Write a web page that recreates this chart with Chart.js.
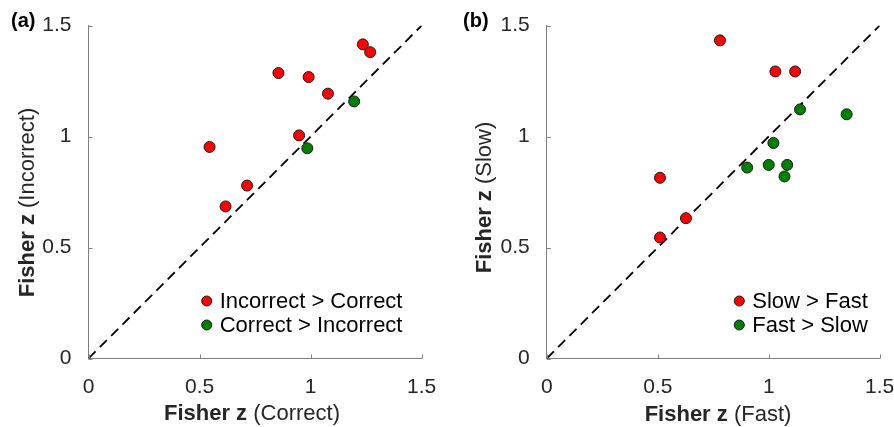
<!DOCTYPE html>
<html lang="en">
<head>
    <meta charset="UTF-8">
    <title>Fisher z scatter</title>
    <style>
        html, body { margin: 0; padding: 0; background: #fff; }
        .wrap { position: relative; width: 894px; height: 427px; overflow: hidden; }
        .panel { position: absolute; top: 0; width: 447px; height: 427px; }
    </style>
</head>
<body>
    <div class="wrap">
        <div class="panel" style="left:0"><canvas id="chartA"></canvas></div>
        <div class="panel" style="left:447px"><canvas id="chartB"></canvas></div>
    </div>

    <script src="https://cdn.jsdelivr.net/npm/chart.js"></script>
    <script>
        // axis ticks, shared by both panels
        const tickVals = [0, 0.5, 1, 1.5];
        const diagVals = [0, 1.5];

        // panel (a)
        const aIncX = [0.545, 0.617, 0.714, 0.855, 0.948, 0.991, 1.078, 1.235, 1.268];
        const aIncY = [0.953, 0.685, 0.779, 1.286, 1.005, 1.268, 1.193, 1.415, 1.380];
        const aCorX = [0.985, 1.196];
        const aCorY = [0.947, 1.158];

        // panel (b)
        const bSlowX = [0.780, 1.030, 1.119, 0.510, 0.627, 0.510];
        const bSlowY = [1.433, 1.293, 1.293, 0.814, 0.632, 0.545];
        const bFastX = [0.903, 1.000, 1.083, 1.071, 1.021, 1.141, 1.351];
        const bFastY = [0.860, 0.872, 0.872, 0.820, 0.971, 1.122, 1.100];

        const FONT = '"Liberation Sans", Arial, sans-serif';
        const RED = '#ff0000';
        const GREEN = '#008000';

        const pts = (xs, ys) => xs.map((x, i) => ({ x: x, y: ys[i] }));

        // draws inward ticks, titles with bold "Fisher z", panel letter and legend
        const decor = {
            id: 'decor',
            afterDraw(chart, args, o) {
                const ctx = chart.ctx;
                const area = chart.chartArea;
                const xs = chart.scales.x, ys = chart.scales.y;

                ctx.save();
                ctx.strokeStyle = '#808080';
                ctx.lineWidth = 1;
                ctx.beginPath();
                tickVals.forEach(v => {
                    const px = Math.round(xs.getPixelForValue(v)) + 0.5;
                    ctx.moveTo(px, area.bottom);
                    ctx.lineTo(px, area.bottom - 4);
                    const py = Math.round(ys.getPixelForValue(v)) + 0.5;
                    ctx.moveTo(area.left, py);
                    ctx.lineTo(area.left + 4, py);
                });
                ctx.stroke();

                // panel letter
                ctx.fillStyle = '#000';
                ctx.font = 'bold 20px ' + FONT;
                ctx.textAlign = 'left';
                ctx.textBaseline = 'alphabetic';
                ctx.fillText(o.letter, o.letterX, 27);

                // axis titles
                drawMixed(ctx, o.xTitle, o.xTitleX, o.xTitleY, 0);
                drawMixed(ctx, o.yTitle, o.yTitleX, o.yTitleY, -Math.PI / 2);

                // legend
                ctx.font = '22px ' + FONT;
                ctx.textBaseline = 'middle';
                chart.data.datasets.filter(d => d.label).forEach((d, i) => {
                    const cy = o.legendY + i * 24;
                    ctx.beginPath();
                    ctx.arc(o.legendX, cy, 5, 0, Math.PI * 2);
                    ctx.fillStyle = d.backgroundColor;
                    ctx.fill();
                    ctx.strokeStyle = '#1a1a1a';
                    ctx.stroke();
                    ctx.fillStyle = '#000';
                    ctx.fillText(d.label, o.legendX + 13, cy + 1);
                });
                ctx.restore();
            }
        };

        function drawMixed(ctx, parts, x, y, rot) {
            const fonts = ['bold 22px ' + FONT, '22px ' + FONT];
            ctx.save();
            ctx.translate(x, y);
            ctx.rotate(rot);
            ctx.fillStyle = '#262626';
            ctx.textAlign = 'left';
            ctx.textBaseline = 'alphabetic';
            const w = parts.map((p, i) => { ctx.font = fonts[i]; return ctx.measureText(p).width; });
            let cx = -(w[0] + w[1]) / 2;
            parts.forEach((p, i) => {
                ctx.font = fonts[i];
                ctx.fillText(p, cx, 0);
                cx += w[i];
            });
            ctx.restore();
        }

        function axis(size, pad) {
            return {
                type: 'linear',
                min: 0,
                max: 1.5,
                grid: { display: false },
                border: { display: true, color: '#808080', width: 1 },
                afterBuildTicks: s => { s.ticks = tickVals.map(v => ({ value: v })); },
                afterFit: s => {
                    if (s.isHorizontal()) s.height = size; else s.width = size;
                    // let the end labels run past the plot edge, as in the original
                    s.paddingLeft = 0; s.paddingRight = 0;
                    s.paddingTop = 0; s.paddingBottom = 0;
                },
                ticks: {
                    color: '#262626',
                    padding: pad,
                    font: { family: FONT, size: 21 },
                    callback: v => String(v)
                }
            };
        }

        function makeChart(id, red, green, labels, yAxisW, padRight, deco) {
            const ctx = document.getElementById(id).getContext('2d');
            return new Chart(ctx, {
                type: 'scatter',
                data: {
                    datasets: [
                        {
                            label: labels[0],
                            data: red,
                            backgroundColor: RED,
                            borderColor: '#1a1a1a',
                            borderWidth: 1,
                            pointRadius: 5.5,
                            order: 1
                        },
                        {
                            label: labels[1],
                            data: green,
                            backgroundColor: GREEN,
                            borderColor: '#1a1a1a',
                            borderWidth: 1,
                            pointRadius: 5.5,
                            order: 2
                        },
                        {
                            type: 'line',
                            data: pts(diagVals, diagVals),
                            borderColor: '#000',
                            borderWidth: 1.8,
                            borderDash: [10, 6],
                            pointRadius: 0,
                            fill: false,
                            order: 3
                        }
                    ]
                },
                options: {
                    responsive: true,
                    maintainAspectRatio: false,
                    animation: false,
                    layout: { padding: { left: 0, right: padRight, top: 25.5, bottom: 0 } },
                    scales: {
                        x: axis(68.5, 8),
                        y: axis(yAxisW, 9)
                    },
                    plugins: {
                        legend: { display: false },
                        tooltip: { enabled: false },
                        decor: deco
                    }
                },
                plugins: [decor]
            });
        }

        makeChart('chartA', pts(aIncX, aIncY), pts(aCorX, aCorY),
            ['Incorrect > Correct', 'Correct > Incorrect'], 88.5, 25.3, {
                letter: '(a)', letterX: 11,
                xTitle: ['Fisher z', ' (Correct)'], xTitleX: 252, xTitleY: 419.5,
                yTitle: ['Fisher z', ' (Incorrect)'], yTitleX: 33.5, yTitleY: 202.5,
                legendX: 206.7, legendY: 301
            });

        makeChart('chartB', pts(bSlowX, bSlowY), pts(bFastX, bFastY),
            ['Slow > Fast', 'Fast > Slow'], 99.8, 14.3, {
                letter: '(b)', letterX: 16,
                xTitle: ['Fisher z', ' (Fast)'], xTitleX: 271, xTitleY: 420.5,
                yTitle: ['Fisher z', ' (Slow)'], yTitleX: 43.5, yTitleY: 197.5,
                legendX: 292.3, legendY: 301
            });
    </script>
</body>
</html>
